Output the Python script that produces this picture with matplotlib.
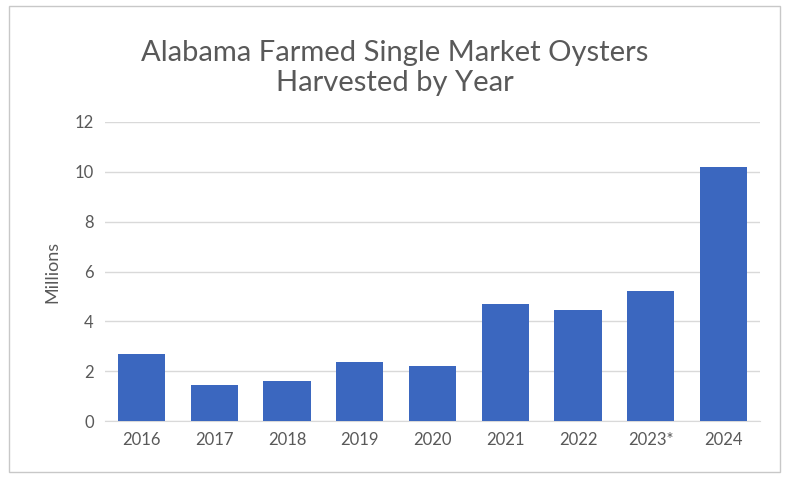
import matplotlib
matplotlib.use("Agg")
import matplotlib.pyplot as plt
from matplotlib.patches import Rectangle

years = ["2016", "2017", "2018", "2019", "2020", "2021", "2022", "2023*", "2024"]
values = [2.7, 1.45, 1.6, 2.35, 2.2, 4.7, 4.45, 5.2, 10.2]
yticks = [0, 2, 4, 6, 8, 10, 12]

plt.rcParams['font.family'] = ['Lato', 'DejaVu Sans']
fig = plt.figure(figsize=(7.89, 4.78), dpi=100)
fig.patches.append(Rectangle((0.012, 0.012), 0.976, 0.976, transform=fig.transFigure,
                             fill=False, edgecolor='#c8c8c8', linewidth=1))
ax = fig.add_axes([105/789, 1-421/478, (760-105)/789, (421-122)/478])
ax.bar(range(len(years)), values, width=0.65, color='#3B67BF', zorder=3)
ax.set_xlim(-0.5, len(years)-0.5)
ax.set_ylim(0, 12)
ax.set_yticks(yticks)
ax.set_xticks(range(len(years)))
ax.set_xticklabels(years)
ax.grid(axis='y', color='#d9d9d9', linewidth=1, zorder=0)
for s in ['top', 'right', 'left']:
    ax.spines[s].set_visible(False)
ax.spines['bottom'].set_color('#d9d9d9')
ax.tick_params(length=0, labelsize=12, colors='#595959', pad=8)
ax.set_ylabel("Millions", fontsize=13, color='#595959', labelpad=10)
fig.text(0.5, 1-68/478, "Alabama Farmed Single Market Oysters\nHarvested by Year",
         ha='center', va='center', fontsize=21, color='#595959', linespacing=1.2)
fig.savefig("out.png", dpi=100)
